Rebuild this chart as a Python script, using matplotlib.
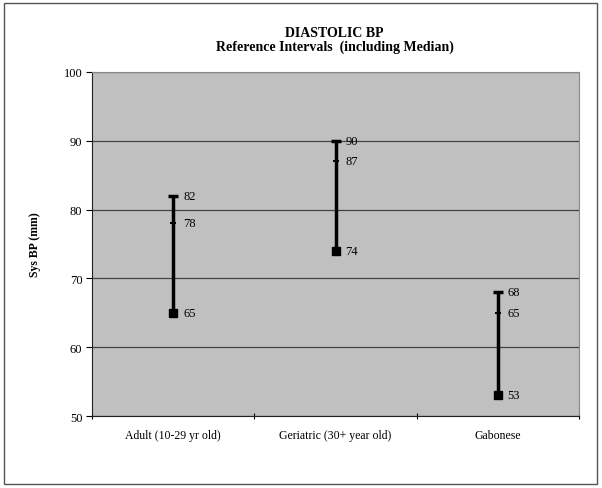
import numpy as np
import matplotlib.pyplot as plt
from matplotlib.patches import Rectangle

plt.rcParams['font.family'] = ['Liberation Serif', 'DejaVu Serif']

## data
groups = ['Adult (10-29 yr old)', 'Geriatric (30+ year old)', 'Gabonese']
high = [82, 90, 68]
median = [78, 87, 65]
low = [65, 74, 53]

fig = plt.figure(figsize=(6.02, 4.89), dpi=100)
ax = fig.add_axes([0.153, 0.147, 0.809, 0.704])

##outer chart border
fig.patches.append(Rectangle((0.007, 0.008), 0.985, 0.984, transform=fig.transFigure,
                             fill=False, edgecolor='#555555', lw=1.0))

ax.set_facecolor('#C0C0C0')
x = np.arange(len(groups))

ax.vlines(x, low, high, colors='black', lw=2.5, zorder=3)
ax.plot(x, low, 's', color='black', ms=6, zorder=4)
ax.plot(x, high, '_', color='black', ms=7, mew=2.5, zorder=4)
ax.plot(x, median, '_', color='black', ms=4, mew=1.5, zorder=4)

for xi, vals in zip(x, zip(high, median, low)):
    for v in vals:
        ax.text(xi + 0.06, v, str(v), va='center', ha='left', fontsize=9)

ax.set_xlim(-0.5, len(groups) - 0.5)
ax.set_ylim(50, 100)
ax.set_yticks(np.arange(50, 101, 10))
ax.set_xticks(np.arange(-0.5, len(groups), 1.0), minor=False)
ax.set_xticklabels([])
ax.set_xticks(x, minor=True)
ax.set_xticklabels(groups, minor=True)
ax.tick_params(axis='x', which='minor', length=0, pad=9, labelsize=8.5)
ax.tick_params(axis='x', which='major', length=4, direction='inout')
ax.tick_params(axis='y', length=4, direction='out', labelsize=9, pad=3)

ax.grid(axis='y', color='#444444', lw=0.9)
ax.set_axisbelow(True)
for s in ['top', 'right']:
    ax.spines[s].set_color('#888888')
for s in ['left', 'bottom']:
    ax.spines[s].set_color('#222222')

ax.set_ylabel('Sys BP (mm)', fontsize=8.5, fontweight='bold', labelpad=16)
fig.text(0.556, 0.917, 'DIASTOLIC BP\nReference Intervals  (including Median)',
         ha='center', va='center', fontsize=10, fontweight='bold', linespacing=1.1)

fig.savefig('out.png', dpi=100)
